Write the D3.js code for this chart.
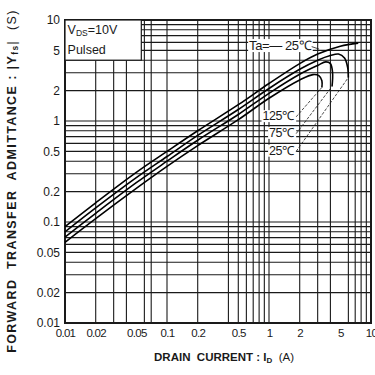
<!DOCTYPE html>
<html>
<head>
<meta charset="utf-8">
<script src="https://cdn.jsdelivr.net/npm/d3@7"></script>
<style>
  body { margin: 0; background: #fff; }
  svg { display: block; font-family: "Liberation Sans", Arial, sans-serif; }
  text { white-space: pre; }
</style>
</head>
<body>
<svg id="chart" width="375" height="375"></svg>
<script>
// tick labels
var xTicks = [0.01, 0.02, 0.05, 0.1, 0.2, 0.5, 1, 2, 5, 10];
var yTicks = [0.01, 0.02, 0.05, 0.1, 0.2, 0.5, 1, 2, 5, 10];
var xTickText = ["0.01", "0.02", "0.05", "0.1", "0.2", "0.5", "1", "2", "5", "10"];
var yTickText = ["0.01", "0.02", "0.05", "0.1", "0.2", "0.5", "1", "2", "5", "10"];

// grid lines as printed (some vertical ones missing in the sheet)
var xGrid = [0.02, 0.03, 0.04, 0.06, 0.07, 0.1, 0.2, 0.4, 0.5, 0.6, 0.7, 0.8, 0.9, 1,
             2, 3, 4, 6, 7, 8, 9];
var yGrid = [0.02, 0.03, 0.04, 0.05, 0.06, 0.07, 0.08, 0.09, 0.1,
             0.2, 0.3, 0.4, 0.5, 0.6, 0.7, 0.8, 0.9, 1,
             2, 3, 4, 5, 6, 7, 8, 9];

// |Yfs| (S) vs ID (A), one series per ambient temperature
var tempNames = ["-25", "25", "75", "125"];
var yfsM25 = [[0.01, 0.090], [0.02, 0.155], [0.05, 0.31], [0.1, 0.50], [0.2, 0.80],
              [0.5, 1.45], [1, 2.35], [2, 3.7], [3, 4.6], [5, 5.5], [7.5, 5.9]];
var yfs25 = [[0.01, 0.080], [0.02, 0.138], [0.05, 0.275], [0.1, 0.445], [0.2, 0.72],
             [0.5, 1.3], [1, 2.1], [2, 3.25], [3, 4.0], [4, 4.45], [4.8, 4.6],
             [5.5, 4.2], [5.9, 3.4], [6.0, 2.7]];
var yfs75 = [[0.01, 0.071], [0.02, 0.122], [0.05, 0.245], [0.1, 0.40], [0.2, 0.645],
             [0.5, 1.16], [1, 1.88], [2, 2.9], [3, 3.55], [3.6, 3.85], [4.0, 3.7],
             [4.2, 3.0], [4.15, 2.2]];
var yfs125 = [[0.01, 0.063], [0.02, 0.108], [0.05, 0.215], [0.1, 0.355], [0.2, 0.57],
              [0.5, 1.03], [1, 1.68], [2, 2.55], [2.7, 2.88], [3.1, 2.8], [3.3, 2.5],
              [3.3, 2.15]];

var svg = d3.select("#chart");
var plotL = 65, plotR = 371, plotT = 20, plotB = 323;

var x = d3.scaleLog().domain([0.01, 10]).range([plotL, plotR]);
var y = d3.scaleLog().domain([0.01, 10]).range([plotB, plotT]);

var ink = "#1a1a1a";

// grid
var grid = svg.append("g");
grid.selectAll(".vx").data(xGrid).enter().append("line")
  .attr("x1", d => x(d)).attr("x2", d => x(d))
  .attr("y1", plotT).attr("y2", plotB)
  .attr("stroke", ink).attr("stroke-width", 1.1);
grid.selectAll(".hy").data(yGrid).enter().append("line")
  .attr("x1", plotL).attr("x2", plotR)
  .attr("y1", d => y(d)).attr("y2", d => y(d))
  .attr("stroke", ink).attr("stroke-width", 1.1);

// frame
svg.append("rect")
  .attr("x", plotL).attr("y", plotT)
  .attr("width", plotR - plotL).attr("height", plotB - plotT)
  .attr("fill", "none").attr("stroke", ink).attr("stroke-width", 2);

// axes (labels only)
var xAxis = d3.axisBottom(x).tickValues(xTicks).tickSize(0).tickPadding(6)
  .tickFormat((d, i) => xTickText[i]);
var gx = svg.append("g").attr("transform", "translate(0," + plotB + ")").call(xAxis);
gx.select(".domain").remove();
gx.selectAll("text").attr("font-size", 11.5).attr("fill", ink)
  .style("font-family", "Liberation Sans, Arial, sans-serif").attr("letter-spacing", -0.7);

var yAxis = d3.axisLeft(y).tickValues(yTicks).tickSize(0).tickPadding(5)
  .tickFormat((d, i) => yTickText[i]);
var gy = svg.append("g").attr("transform", "translate(" + plotL + ",0)").call(yAxis);
gy.select(".domain").remove();
gy.selectAll("text").attr("font-size", 12).attr("fill", ink)
  .style("font-family", "Liberation Sans, Arial, sans-serif");

// curves
var line = d3.line()
  .x(d => x(d[0])).y(d => y(d[1]))
  .curve(d3.curveCatmullRom.alpha(0.5));
var series = [yfsM25, yfs25, yfs75, yfs125];
svg.append("g").selectAll("path").data(series).enter().append("path")
  .attr("d", line)
  .attr("fill", "none").attr("stroke", "#000").attr("stroke-width", 1.6);

// condition box
svg.append("rect")
  .attr("x", plotL).attr("y", plotT)
  .attr("width", x(0.056) - plotL).attr("height", y(4) - plotT)
  .attr("fill", "#fff").attr("stroke", ink).attr("stroke-width", 1.2);
var cond = svg.append("text").attr("x", x(0.0106)).attr("y", y(7.3))
  .attr("font-size", 12.5).attr("fill", ink);
cond.append("tspan").text("V");
cond.append("tspan").text("DS").attr("font-size", 8.5).attr("dy", 2);
cond.append("tspan").text("=10V").attr("dy", -2);
svg.append("text").attr("x", x(0.0106)).attr("y", y(4.6))
  .attr("font-size", 12.5).attr("fill", ink).text("Pulsed");

// temperature labels
function tag(txt, xv, yv, fs) {
  var t = svg.append("text").attr("x", x(xv)).attr("y", y(yv))
    .attr("text-anchor", "end").attr("dominant-baseline", "middle")
    .attr("font-size", fs).attr("fill", ink).attr("letter-spacing", -0.4)
    .text(txt);
  var b = t.node().getBBox();
  svg.insert("rect", function () { return t.node(); })
    .attr("x", b.x - 1).attr("y", b.y + 1)
    .attr("width", b.width + 2).attr("height", b.height - 2)
    .attr("fill", "#fff");
  return b;
}

var ends = [yfs125, yfs75, yfs25].map(s => s[s.length - 1]);
var tagPos = [[1.75, 1.1], [1.75, 0.75], [1.75, 0.5]];
var tagText = ["125\u2103", "75\u2103", "25\u2103"];
tagPos.forEach(function (p, i) {
  var b = tag(tagText[i], p[0], p[1], 12.5);
  svg.append("line")
    .attr("x1", b.x + b.width + 1).attr("y1", y(p[1]))
    .attr("x2", x(ends[i][0])).attr("y2", y(ends[i][1]))
    .attr("stroke", ink).attr("stroke-width", 0.8)
    .attr("stroke-dasharray", "3,1.5");
});

var tb = tag("Ta=\u2014 25\u2103", 2.6, 5.45, 13);
svg.append("line")
  .attr("x1", tb.x + tb.width).attr("y1", y(5.45))
  .attr("x2", x(3.1)).attr("y2", y(5.15))
  .attr("stroke", ink).attr("stroke-width", 0.8);

// axis titles
var xt = svg.append("text").attr("x", 224).attr("y", 361)
  .attr("text-anchor", "middle").attr("font-size", 11.5)
  .attr("font-weight", "bold").attr("fill", ink);
xt.append("tspan").text("DRAIN  CURRENT : I");
xt.append("tspan").text("D").attr("font-size", 8).attr("dy", 2);
xt.append("tspan").text("  (A)").attr("dy", -2).attr("font-weight", "normal");

var yt = svg.append("text")
  .attr("transform", "translate(16,181) rotate(-90)")
  .attr("text-anchor", "middle").attr("font-size", 12.5)
  .attr("font-weight", "bold").attr("fill", ink).attr("letter-spacing", 1.4);
yt.append("tspan").text("FORWARD  TRANSFER  ADMITTANCE : |Y");
yt.append("tspan").text("fs").attr("font-size", 8.5).attr("dy", 2);
yt.append("tspan").text("|  (S)").attr("dy", -2).attr("font-weight", "normal");
</script>
</body>
</html>
